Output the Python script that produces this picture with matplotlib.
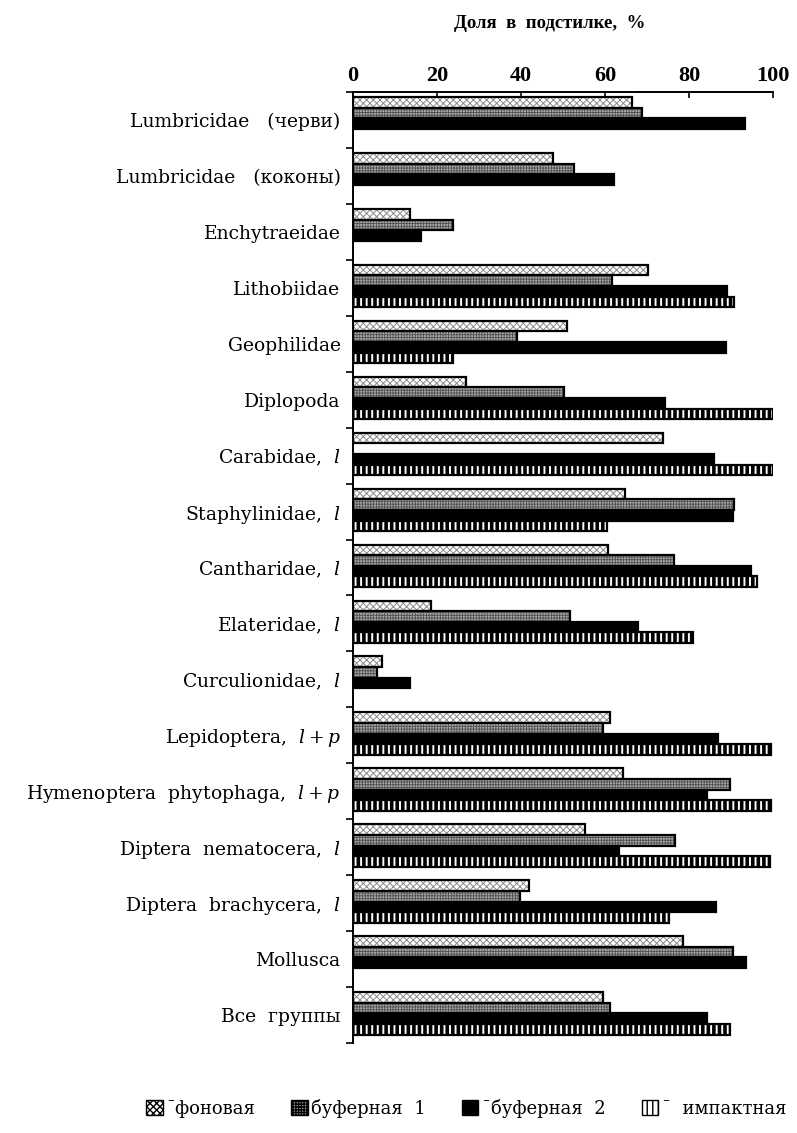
# Доля животных в подстилке по зонам
import numpy as np
import matplotlib.pyplot as plt
from matplotlib.patches import Patch

plt.rcParams['font.family'] = ['DejaVu Serif']
plt.rcParams['mathtext.fontset'] = 'custom'
plt.rcParams['mathtext.it'] = 'DejaVu Serif:italic'
plt.rcParams['mathtext.rm'] = 'DejaVu Serif'

groups = ['Lumbricidae   (черви)', 'Lumbricidae   (коконы)', 'Enchytraeidae',
          'Lithobiidae', 'Geophilidae', 'Diplopoda', 'Carabidae,  $l$',
          'Staphylinidae,  $l$', 'Cantharidae,  $l$', 'Elateridae,  $l$',
          'Curculionidae,  $l$', 'Lepidoptera,  $l + p$',
          'Hymenoptera  phytophaga,  $l + p$', 'Diptera  nematocera,  $l$',
          'Diptera  brachycera,  $l$', 'Mollusca', 'Все  группы']

fon = [66.3, 47.7, 13.6, 70.2, 50.9, 26.9, 73.7, 64.7, 60.6, 18.5,
       7.0, 61.2, 64.2, 55.3, 42.0, 78.5, 59.5]
buf1 = [68.7, 52.5, 23.9, 61.6, 39.1, 50.1, np.nan, 90.6, 76.5, 51.7,
        5.6, 59.6, 89.8, 76.7, 39.7, 90.4, 61.2]
buf2 = [93.3, 62.2, 16.2, 89.1, 88.8, 74.2, 86.0, 90.5, 94.7, 67.8,
        13.5, 86.8, 84.2, 63.2, 86.4, 93.6, 84.2]
imp = [np.nan, np.nan, np.nan, 90.8, 23.7, 100, 100, 60.4, 96.1, 81.0,
       np.nan, 99.6, 99.6, 99.3, 75.1, np.nan, 89.8]

legend_labels = ['ˉфоновая', 'буферная  1', 'ˉбуферная  2', 'ˉ  импактная']

series = [fon, buf1, buf2, imp]
styles = [dict(facecolor='white', edgecolor='#8a8a8a', hatch='xxxxx'),
          dict(facecolor='#a8a8a8', edgecolor='#505050', hatch='++++++'),
          dict(facecolor='black', edgecolor='black', hatch=None),
          dict(facecolor='white', edgecolor='black', hatch='|||')]
hatch_lw = [0.7, 0.6, 1.0, 2.6]

fig = plt.figure(figsize=(7.97, 11.33), dpi=100)
ax = fig.add_axes([0.443, 0.0794, 0.527, 0.8394])

n = len(groups)
ypos = np.arange(n)
slot = 0.19
for k, (vals, st) in enumerate(zip(series, styles)):
    y = ypos - 0.5 + 0.09 + slot * (k + 0.5)
    bars = ax.barh(y, vals, height=slot, linewidth=0, **st)
    for b in bars:
        if hasattr(b, 'set_hatch_linewidth'):
            b.set_hatch_linewidth(hatch_lw[k])
    ax.barh(y, vals, height=slot, fill=False, edgecolor='black', linewidth=1.6)

ax.set_xlim(0, 100)
ax.set_ylim(n - 0.5, -0.5)
ax.set_xticks([0, 20, 40, 60, 80, 100])
ax.xaxis.tick_top()
ax.tick_params(axis='x', direction='in', length=4, width=1.2, pad=4)
for lbl in ax.get_xticklabels():
    lbl.set_fontfamily('Liberation Serif')
    lbl.set_fontweight('bold')
    lbl.set_fontsize(16)
ax.set_yticks(ypos)
ax.set_yticklabels(groups, fontsize=13.5)
ax.set_yticks(np.arange(n + 1) - 0.5, minor=True)
ax.tick_params(axis='y', which='major', length=0, pad=9)
ax.tick_params(axis='y', which='minor', direction='out', length=5, width=1.2)
ax.spines['right'].set_visible(False)
ax.spines['bottom'].set_visible(False)
ax.spines['top'].set_linewidth(1.4)
ax.spines['left'].set_linewidth(1.4)

fig.text(0.69, 0.979, 'Доля  в  подстилке,  %', ha='center', va='center',
         fontsize=13.5, fontweight='bold', family='Liberation Serif')

handles = []
for st in styles:
    handles.append(Patch(facecolor=st['facecolor'], hatch=st['hatch'],
                         edgecolor='black', linewidth=1))
fig.legend(handles, legend_labels, loc='center', bbox_to_anchor=(0.585, 0.022),
           ncol=4, frameon=False, fontsize=13, handlelength=0.9,
           handleheight=0.9, handletextpad=0.2, columnspacing=2.0)

fig.savefig('out.png', dpi=100)
